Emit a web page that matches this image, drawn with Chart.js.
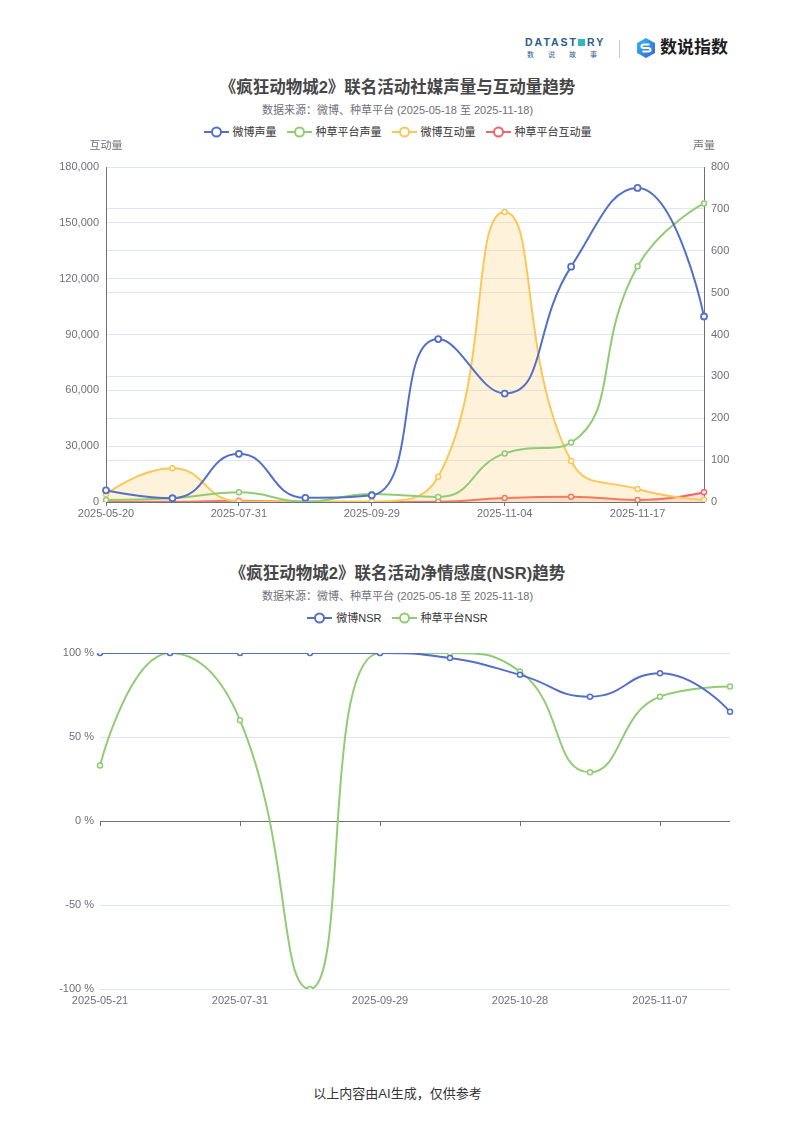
<!DOCTYPE html>
<html>
<head>
<meta charset="utf-8">
<script src="https://cdn.jsdelivr.net/npm/chart.js@4.4.1/dist/chart.umd.min.js"></script>
<style>
  body { margin: 0; background: #fff; font-family: "Liberation Sans", "Noto Sans CJK SC", sans-serif; }
  #page { position: relative; width: 795px; height: 1124px; overflow: hidden; background: #fff; }
  .abs { position: absolute; }
  .title { left: 0; width: 795px; text-align: center; font-size: 16.5px; font-weight: bold; color: #464646; line-height: 20px; }
  .sub { left: 0; width: 795px; text-align: center; font-size: 11px; color: #6e7079; line-height: 16px; }
  .legend { left: 0; width: 795px; display: flex; justify-content: center; font-size: 11px; color: #333; line-height: 16px; }
  .legend .item { display: flex; align-items: center; margin: 0 5px; }
  .legend svg { margin-right: 4px; }
  .logo1 { left: 525px; top: 37px; color: #2a5d8f; }
  .logo1 .en { font-size: 10.5px; font-weight: bold; letter-spacing: 2px; line-height: 11px; }
  .logo1 .en i { display: inline-block; width: 7px; height: 7px; background: #2fb7c4; margin: 0 2px 0 0; vertical-align: 0; }
  .logo1 .cn { font-size: 7px; letter-spacing: 14px; line-height: 9px; margin-top: 2px; padding-left: 2px; }
  .sep { left: 619px; top: 40px; width: 1px; height: 18px; background: #c8c8c8; }
  .logo2 { left: 660px; top: 37px; font-size: 17px; font-weight: bold; color: #1d1d1d; line-height: 22px; }
  .foot { left: 0; width: 795px; top: 1085px; text-align: center; font-size: 13px; color: #333; line-height: 18px; }
</style>
</head>
<body>
<div id="page">
  <div class="abs logo1"><div class="en">DATAST<i></i>RY</div><div class="cn">数说故事</div></div>
  <div class="abs sep"></div>
  <svg class="abs" style="left:635px;top:37px" width="22" height="22" viewBox="0 0 22 22">
    <defs><linearGradient id="hg" x1="0" y1="0" x2="1" y2="1"><stop offset="0" stop-color="#2fc0e6"/><stop offset="1" stop-color="#3b5fd9"/></linearGradient></defs>
    <polygon points="11,1 20,6 20,16 11,21 2,16 2,6" fill="url(#hg)"/>
    <path d="M14.5 7.5 L9 7.5 Q6.5 7.5 6.5 9.5 Q6.5 11 9 11 L13 11 Q15.5 11 15.5 13 Q15.5 14.5 13 14.5 L7.5 14.5" fill="none" stroke="#fff" stroke-width="2"/>
  </svg>
  <div class="abs logo2">数说指数</div>

  <div class="abs title" style="top:77px">《疯狂动物城2》联名活动社媒声量与互动量趋势</div>
  <div class="abs sub" style="top:102px">数据来源：微博、种草平台 (2025-05-18 至 2025-11-18)</div>
  <div class="abs legend" id="legend1" style="top:124px"></div>
  <div class="abs" style="left:0;top:140px;width:795px;height:384px"><canvas id="c1"></canvas></div>

  <div class="abs title" style="top:563px">《疯狂动物城2》联名活动净情感度(NSR)趋势</div>
  <div class="abs sub" style="top:588px">数据来源：微博、种草平台 (2025-05-18 至 2025-11-18)</div>
  <div class="abs legend" id="legend2" style="top:610px"></div>
  <div class="abs" style="left:0;top:630px;width:795px;height:382px"><canvas id="c2"></canvas></div>

  <div class="abs foot">以上内容由AI生成，仅供参考</div>
</div>
<script>
// chart 1: 声量 / 互动量
const dates1 = ['2025-05-20', '2025-06-24', '2025-07-31', '2025-08-30', '2025-09-29', '2025-10-20', '2025-11-04', '2025-11-10', '2025-11-17', '2025-11-18'];
const weiboVoice = [28, 9, 115, 10, 16, 389, 259, 562, 750, 443];
const grassVoice = [5, 9, 23, 1, 19, 12, 116, 142, 563, 713];
const weiboInteract = [4100, 18100, 300, 200, 300, 13600, 155800, 22000, 7000, 1200];
const grassInteract = [100, 100, 700, 0, 0, 100, 2150, 2850, 1070, 5200];
const interactTicks = { min: 0, max: 180000, step: 30000 };
const voiceTicks = { min: 0, max: 800, step: 100 };

// chart 2: NSR
const dates2 = ['2025-05-21', '2025-06-25', '2025-07-31', '2025-08-30', '2025-09-29', '2025-10-15', '2025-10-28', '2025-11-03', '2025-11-07', '2025-11-12'];
const weiboNSR = [100, 100, 100, 100, 100, 97, 87, 74, 88, 65];
const grassNSR = [33, 100, 60, -100, 100, 100, 89, 29, 74, 80];
const nsrTicks = { min: -100, max: 100, step: 50 };

const BLUE = '#5470c6', GREEN = '#91cc75', YELLOW = '#fac858', RED = '#ee6666';
const AXIS = '#6e7079', GRID = '#e0e6f1';
const FONT = '"Liberation Sans", "Noto Sans CJK SC", sans-serif';

Chart.defaults.font.family = FONT;
Chart.defaults.font.size = 11;
Chart.defaults.color = AXIS;

function lineSet(label, data, color, axis, extra) {
  return Object.assign({
    label: label,
    data: data,
    yAxisID: axis,
    borderColor: color,
    backgroundColor: color,
    borderWidth: 2,
    pointRadius: 2.5,
    pointBorderWidth: 1.5,
    pointBackgroundColor: '#fff',
    pointBorderColor: color,
    tension: 0.5,
    fill: false
  }, extra || {});
}

function clampTo(v, a, b) {
  return Math.max(Math.min(v, Math.max(a, b)), Math.min(a, b));
}

// smooth the lines the way echarts does (control points kept between neighbours)
const echartsSmooth = {
  id: 'echartsSmooth',
  beforeDatasetsDraw(chart) {
    const s = 0.5;
    chart.data.datasets.forEach(function (ds, di) {
      const meta = chart.getDatasetMeta(di);
      if (!meta.dataset || !meta.visible) return;
      meta.dataset.updateControlPoints(chart.chartArea, 'x');
      const pts = meta.data;
      const n = pts.length;
      for (let i = 0; i < n; i++) {
        const p = pts[i];
        if (i === 0 || i === n - 1) {
          p.cp1x = p.cp2x = p.x;
          p.cp1y = p.cp2y = p.y;
          continue;
        }
        const a = pts[i - 1], b = pts[i + 1];
        const lp = Math.hypot(p.x - a.x, p.y - a.y);
        const ln = Math.hypot(b.x - p.x, b.y - p.y);
        const r = ln / (ln + lp);
        let vx = b.x - a.x, vy = b.y - a.y;
        let c1x = clampTo(p.x + vx * s * r, b.x, p.x);
        let c1y = clampTo(p.y + vy * s * r, b.y, p.y);
        vx = c1x - p.x; vy = c1y - p.y;
        const c0x = clampTo(p.x - vx * lp / ln, a.x, p.x);
        const c0y = clampTo(p.y - vy * lp / ln, a.y, p.y);
        vx = p.x - c0x; vy = p.y - c0y;
        c1x = p.x + vx * ln / lp;
        c1y = p.y + vy * ln / lp;
        p.cp1x = c0x; p.cp1y = c0y;
        p.cp2x = c1x; p.cp2y = c1y;
      }
    });
  }
};

// echarts-like names above the value axes
const axisNames = {
  id: 'axisNames',
  afterDraw(chart, args, opts) {
    if (!opts.names) return;
    const ctx = chart.ctx;
    ctx.save();
    ctx.font = '11px ' + FONT;
    ctx.fillStyle = AXIS;
    ctx.textAlign = 'center';
    ctx.textBaseline = 'middle';
    opts.names.forEach(function (n) {
      const sc = chart.scales[n.axis];
      const x = sc.position === 'left' ? sc.right : sc.left;
      ctx.fillText(n.text, x, chart.chartArea.top - 21);
    });
    ctx.restore();
  }
};

// small tick marks hanging from the zero line
const zeroTicks = {
  id: 'zeroTicks',
  beforeDatasetsDraw(chart, args, opts) {
    if (!opts.on) return;
    const xs = chart.scales.x, ys = chart.scales.y;
    const y0 = ys.getPixelForValue(0);
    const ctx = chart.ctx;
    ctx.save();
    ctx.strokeStyle = AXIS;
    ctx.lineWidth = 1;
    xs.ticks.forEach(function (t, i) {
      if (i % 2) return;
      const x = Math.round(xs.getPixelForTick(i)) + 0.5;
      ctx.beginPath();
      ctx.moveTo(x, y0);
      ctx.lineTo(x, y0 + 5);
      ctx.stroke();
    });
    ctx.restore();
  }
};

function buildLegend(el, chart) {
  chart.data.datasets.forEach(function (ds) {
    const item = document.createElement('span');
    item.className = 'item';
    item.innerHTML = '<svg width="25" height="14" viewBox="0 0 25 14">' +
      '<line x1="0" y1="7" x2="25" y2="7" stroke="' + ds.borderColor + '" stroke-width="2"/>' +
      '<circle cx="12.5" cy="7" r="4.5" fill="#fff" stroke="' + ds.borderColor + '" stroke-width="2"/></svg>' +
      '<span>' + ds.label + '</span>';
    el.appendChild(item);
  });
}

function everyOther(v, i) {
  return i % 2 ? '' : this.getLabelForValue(v);
}

const chart1 = new Chart(document.getElementById('c1'), {
  type: 'line',
  data: {
    labels: dates1,
    datasets: [
      lineSet('微博声量', weiboVoice, BLUE, 'yR', { pointRadius: 3, pointBorderWidth: 1.8 }),
      lineSet('种草平台声量', grassVoice, GREEN, 'yR'),
      lineSet('微博互动量', weiboInteract, YELLOW, 'yL', { fill: 'origin', backgroundColor: 'rgba(250,200,88,0.22)' }),
      lineSet('种草平台互动量', grassInteract, RED, 'yL', { fill: 'origin', backgroundColor: 'rgba(238,102,102,0.18)' })
    ]
  },
  options: {
    responsive: true,
    maintainAspectRatio: false,
    animation: false,
    layout: { padding: { top: 27, left: 56, right: 51, bottom: 0 } },
    plugins: {
      legend: { display: false },
      tooltip: { enabled: false },
      axisNames: { names: [{ axis: 'yL', text: '互动量' }, { axis: 'yR', text: '声量' }] }
    },
    scales: {
      x: {
        offset: false,
        grid: { drawOnChartArea: false, tickLength: 4, color: function (c) { return c.index % 2 ? 'rgba(0,0,0,0)' : AXIS; } },
        border: { color: AXIS },
        ticks: { autoSkip: false, maxRotation: 0, padding: 1, callback: everyOther },
        afterFit: function (s) { s.height = 22; }
      },
      yL: {
        position: 'left',
        min: interactTicks.min, max: interactTicks.max,
        ticks: { stepSize: interactTicks.step, padding: 7, callback: function (v) { return v.toLocaleString('en-US'); } },
        grid: { color: GRID, drawTicks: false },
        border: { color: AXIS },
        afterFit: function (s) { s.width = 50; }
      },
      yR: {
        position: 'right',
        min: voiceTicks.min, max: voiceTicks.max,
        ticks: { stepSize: voiceTicks.step, padding: 7 },
        grid: { color: GRID, drawTicks: false },
        border: { color: AXIS },
        afterFit: function (s) { s.width = 40; }
      }
    }
  },
  plugins: [echartsSmooth, axisNames]
});
buildLegend(document.getElementById('legend1'), chart1);

const chart2 = new Chart(document.getElementById('c2'), {
  type: 'line',
  data: {
    labels: dates2,
    datasets: [
      lineSet('微博NSR', weiboNSR, BLUE, 'y'),
      lineSet('种草平台NSR', grassNSR, GREEN, 'y')
    ]
  },
  options: {
    responsive: true,
    maintainAspectRatio: false,
    animation: false,
    layout: { padding: { top: 23, left: 55, right: 65, bottom: 0 } },
    plugins: {
      legend: { display: false },
      tooltip: { enabled: false },
      zeroTicks: { on: true }
    },
    scales: {
      x: {
        offset: false,
        grid: { display: false, drawTicks: false },
        border: { display: false },
        ticks: { autoSkip: false, maxRotation: 0, padding: 5, callback: everyOther },
        afterFit: function (s) { s.height = 23; }
      },
      y: {
        min: nsrTicks.min, max: nsrTicks.max,
        ticks: { stepSize: nsrTicks.step, padding: 6, callback: function (v) { return v + ' %'; } },
        grid: { drawTicks: false, color: function (c) { return c.tick && c.tick.value === 0 ? AXIS : GRID; } },
        border: { display: false },
        afterFit: function (s) { s.width = 45; }
      }
    }
  },
  plugins: [echartsSmooth, zeroTicks]
});
buildLegend(document.getElementById('legend2'), chart2);
</script>
</body>
</html>
